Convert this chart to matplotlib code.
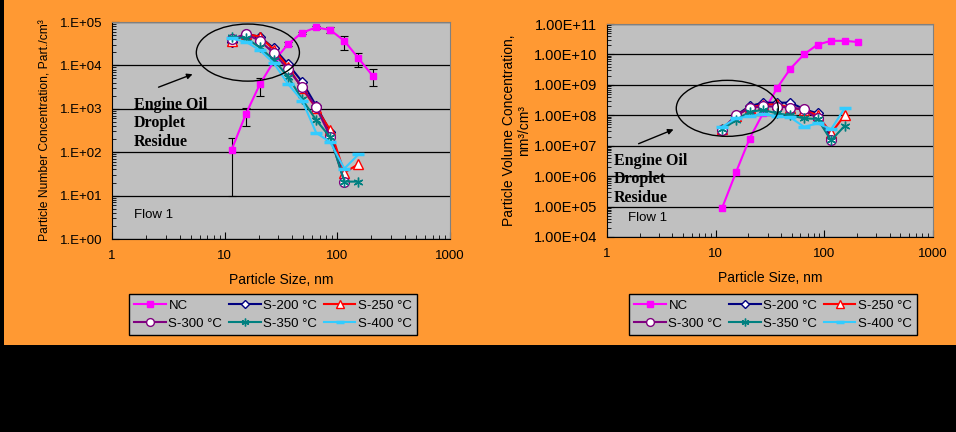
import numpy as np
import matplotlib
matplotlib.use('Agg')
import matplotlib.pyplot as plt
from matplotlib.patches import Ellipse, Rectangle
from matplotlib.ticker import LogLocator, FuncFormatter, NullFormatter

plt.rcParams['font.family'] = ['Liberation Sans', 'DejaVu Sans']

# particle sizes, nm
size = [11.5, 15.4, 20.5, 27.4, 36.5, 48.7, 64.9, 86.6, 115.5, 154.0, 205.4]

# number concentration, Part./cm3
nc_num = [112, 750, 3650, 12600, 31000, 56700, 75000, 65500, 36600, 14600, 5800]
nc_num_lo = [10, 410, 1990, 11000, 28000, 53000, 70000, 55000, 22600, 9300, 3370]
nc_num_hi = [215, 1060, 5200, 14500, 34000, 60000, 80000, 78000, 48000, 19700, 8100]
s200_num = [35000, 53000, 46000, 24700, 10700, 4200, 1170, 297, 21]
s250_num = [36000, 53000, 46000, 23000, 9300, 2960, 1030, 325, 34, 53]
s300_num = [40000, 53000, 37000, 19000, 8100, 3150, 1080, 228, 21]
s350_num = [44500, 43000, 26000, 13300, 5500, 1660, 550, 220, 21, 21]
s400_num = [42000, 35000, 22600, 11100, 3730, 1550, 280, 170, 42, 89]

# volume concentration, nm3/cm3
nc_vol = [9.3e4, 1.35e6, 1.7e7, 1.2e8, 7.6e8, 3.4e9, 1.0e10, 2.1e10, 2.8e10, 2.8e10, 2.55e10]
s200_vol = [3.3e7, 1.0e8, 2.0e8, 2.6e8, 2.6e8, 2.6e8, 1.6e8, 1.15e8, 1.8e7]
s250_vol = [3.5e7, 9.5e7, 1.8e8, 2.2e8, 2.3e8, 1.8e8, 1.5e8, 1.0e8, 2.6e7, 1.0e8]
s300_vol = [3.4e7, 1.0e8, 1.7e8, 2.0e8, 1.9e8, 1.8e8, 1.55e8, 7.9e7, 1.6e7]
s350_vol = [3.5e7, 6.9e7, 1.3e8, 1.5e8, 1.15e8, 1.0e8, 7.9e7, 7.6e7, 1.5e7, 4.5e7]
s400_vol = [4.2e7, 7.9e7, 9.3e7, 1.1e8, 9.3e7, 8.5e7, 4.2e7, 5.4e7, 3.5e7, 1.7e8]

labels = ['NC', 'S-200 °C', 'S-250 °C', 'S-300 °C', 'S-350 °C', 'S-400 °C']
orange = '#FF9933'
gray = '#C0C0C0'

styles = {
    'NC': dict(color='#FF00FF', marker='s', ms=5, mfc='#FF00FF', mec='#FF00FF'),
    'S-200 °C': dict(color='#000080', marker='D', ms=5, mfc='white', mec='#000080'),
    'S-250 °C': dict(color='#FF0000', marker='^', ms=7, mfc='white', mec='#FF0000'),
    'S-300 °C': dict(color='#800080', marker='o', ms=7, mfc='white', mec='#800080'),
    'S-350 °C': dict(color='#008080', marker=(6, 2, 0), ms=7, mfc='#008080', mec='#008080'),
    'S-400 °C': dict(color='#33CCFF', marker='_', ms=8, mfc='#33CCFF', mec='#33CCFF', mew=2.5),
}


def style_axes(ax, ymin, ymax, fmt, ysize):
    ax.set_facecolor(gray)
    ax.set_xscale('log')
    ax.set_yscale('log')
    ax.set_xlim(1, 1000)
    ax.set_ylim(ymin, ymax)
    for s in ['top', 'right']:
        ax.spines[s].set_color('#808080')
    for s in ['left', 'bottom']:
        ax.spines[s].set_color('black')
    ax.yaxis.set_major_locator(LogLocator(base=10, numticks=20))
    ax.yaxis.set_minor_locator(LogLocator(base=10, subs=np.arange(2, 10), numticks=20))
    ax.yaxis.set_minor_formatter(NullFormatter())
    ax.yaxis.set_major_formatter(FuncFormatter(fmt))
    ax.xaxis.set_major_formatter(FuncFormatter(lambda v, p: '%d' % v))
    ax.xaxis.set_minor_formatter(NullFormatter())
    ax.tick_params(which='major', direction='in', length=5, pad=7)
    ax.tick_params(which='minor', direction='in', length=3)
    ax.tick_params(axis='y', which='major', labelsize=ysize)
    ax.tick_params(axis='x', which='major', pad=8, labelsize=9.5)
    ax.grid(axis='y', which='major', color='black', lw=0.9)
    ax.set_axisbelow(True)
    ax.set_xlabel('Particle Size, nm', fontsize=10, labelpad=8)


def plot_series(ax, data):
    handles = []
    for lab, y in zip(labels, data):
        st = dict(styles[lab])
        h, = ax.plot(size[:len(y)], y, lw=1.5, label=lab, zorder=3, **st)
        handles.append(h)
    return handles


fig = plt.figure(figsize=(9.56, 4.32), dpi=100, facecolor='black')
fig.add_artist(Rectangle((4 / 956, 87 / 432), 1, 1, transform=fig.transFigure,
                         facecolor=orange, edgecolor='none', zorder=-5))

# left: number concentration
ax1 = fig.add_axes([112 / 956, 193 / 432, 338 / 956, 217 / 432])
style_axes(ax1, 1, 1e5, lambda v, p: '1.E%+03d' % round(np.log10(v)), 9.5)
yerr = [np.array(nc_num) - np.array(nc_num_lo), np.array(nc_num_hi) - np.array(nc_num)]
ax1.errorbar(size, nc_num, yerr=yerr, fmt='none', ecolor='black', elinewidth=0.8,
             capsize=3, capthick=0.8, zorder=2)
h1 = plot_series(ax1, [nc_num, s200_num, s250_num, s300_num, s350_num, s400_num])
ax1.set_ylabel('Particle Number Concentration, Part./cm³', fontsize=8.7, va='center')
ax1.yaxis.set_label_coords(-0.196, 0.5)
ax1.add_patch(Ellipse((0.402, 0.859), 0.305, 0.263, transform=ax1.transAxes,
                      fill=False, edgecolor='black', lw=1, zorder=4))
ax1.annotate('', xy=(0.246, 0.764), xytext=(0.130, 0.695), xycoords='axes fraction',
             arrowprops=dict(arrowstyle='-|>', color='black', lw=1, mutation_scale=8))
ax1.text(0.065, 0.655, 'Engine Oil\nDroplet\nResidue', transform=ax1.transAxes,
         family='Liberation Serif', fontweight='bold', fontsize=11.5, va='top',
         linespacing=1.2)
ax1.text(0.065, 0.11, 'Flow 1', transform=ax1.transAxes, fontsize=9.5, va='center')

# right: volume concentration
ax2 = fig.add_axes([607 / 956, 195 / 432, 326 / 956, 213 / 432])
style_axes(ax2, 1e4, 1e11, lambda v, p: '1.00E%+03d' % round(np.log10(v)), 10.5)
h2 = plot_series(ax2, [nc_vol, s200_vol, s250_vol, s300_vol, s350_vol, s400_vol])
ax2.set_ylabel('Particle Volume Concentration,\nnm³/cm³', fontsize=10, va='center',
               linespacing=1.1)
ax2.yaxis.set_label_coords(-0.277, 0.5)
ax2.add_patch(Ellipse((0.369, 0.604), 0.313, 0.263, transform=ax2.transAxes,
                      fill=False, edgecolor='black', lw=1, zorder=4))
ax2.annotate('', xy=(0.212, 0.510), xytext=(0.089, 0.433), xycoords='axes fraction',
             arrowprops=dict(arrowstyle='-|>', color='black', lw=1, mutation_scale=8))
ax2.text(0.02, 0.395, 'Engine Oil\nDroplet\nResidue', transform=ax2.transAxes,
         family='Liberation Serif', fontweight='bold', fontsize=11.5, va='top',
         linespacing=1.2)
ax2.text(0.065, 0.09, 'Flow 1', transform=ax2.transAxes, fontsize=9.5, va='center')

# legends, row-wise order for 3 columns
order = [0, 3, 1, 4, 2, 5]
for h, cx in [(h1, 273), (h2, 773)]:
    leg = fig.legend([h[i] for i in order], [labels[i] for i in order], ncol=3,
                     loc='upper center', bbox_to_anchor=(cx / 956, 138 / 432),
                     borderaxespad=0, fontsize=9.5, frameon=True, fancybox=False,
                     edgecolor='black', facecolor=gray, framealpha=1, handlelength=2.4,
                     handletextpad=0.2, columnspacing=0.5, borderpad=0.4,
                     labelspacing=0.45, markerscale=0.8)
    leg.get_frame().set_linewidth(1)

fig.savefig('out.png', dpi=100, facecolor=fig.get_facecolor())
